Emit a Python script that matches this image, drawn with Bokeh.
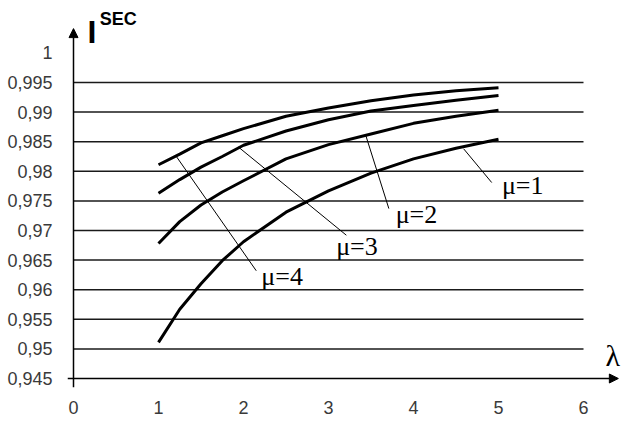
from bokeh.plotting import figure
from bokeh.models import Range1d, FixedTicker, CustomJSTickFormatter, Arrow, NormalHead, Label
from bokeh.core.properties import value
from bokeh.embed import file_html
from bokeh.resources import INLINE

# ---- data ----
lam = [1, 1.25, 1.5, 1.75, 2, 2.5, 3, 3.5, 4, 4.5, 5]
sec_mu1 = [0.9511, 0.9567, 0.9610, 0.9649, 0.9681, 0.9731, 0.9767, 0.9797, 0.9821, 0.9839, 0.9854]
sec_mu2 = [0.9678, 0.9715, 0.9743, 0.9765, 0.9784, 0.9821, 0.9845, 0.9863, 0.9881, 0.9893, 0.9903]
sec_mu3 = [0.9763, 0.9786, 0.9807, 0.9825, 0.9844, 0.9868, 0.9887, 0.9902, 0.9911, 0.9920, 0.9928]
sec_mu4 = [0.9811, 0.9829, 0.9848, 0.9860, 0.9872, 0.9893, 0.9907, 0.9919, 0.9929, 0.9936, 0.9941]

x_ticks = [0, 1, 2, 3, 4, 5, 6]
y_ticks = [0.945, 0.95, 0.955, 0.96, 0.965, 0.97, 0.975, 0.98, 0.985, 0.99, 0.995, 1.0]
grid_levels = [0.95, 0.955, 0.96, 0.965, 0.97, 0.975, 0.98, 0.985, 0.99, 0.995]

mu_names = ["\u03bc=1", "\u03bc=2", "\u03bc=3", "\u03bc=4"]
label_x = [5.04, 3.79, 3.09, 2.21]
label_y = [0.9776, 0.9727, 0.9673, 0.9622]
leader_x0 = [4.59, 3.44, 1.94, 1.21]
leader_y0 = [0.9838, 0.9860, 0.9841, 0.9825]
leader_x1 = [4.92, 3.71, 3.21, 2.15]
leader_y1 = [0.9781, 0.9737, 0.9692, 0.9632]

# ---- layout ----
X0, X1 = -0.0706, 6.447
Y0, Y1 = 0.94348, 1.00885

p = figure(width=621, height=421, output_backend="svg", toolbar_location=None,
           x_range=Range1d(X0, X1), y_range=Range1d(Y0, Y1),
           min_border_left=67, min_border_right=0, min_border_top=0, min_border_bottom=34)
p.outline_line_color = None
p.grid.visible = False
p.background_fill_color = "white"

fmt = CustomJSTickFormatter(code="""
const s = (Math.round(tick*1000)/1000).toString();
return s.replace('.', ',');
""")

for ax in (p.xaxis[0], p.yaxis[0]):
    ax.axis_line_color = None
    ax.major_tick_line_color = None
    ax.minor_tick_line_color = None
    ax.major_label_text_font = "Liberation Sans"
    ax.major_label_text_font_size = "18px"
    ax.major_label_text_color = "#3a3a3a"

p.xaxis.ticker = FixedTicker(ticks=x_ticks)
p.xaxis.major_label_standoff = 7
p.yaxis.ticker = FixedTicker(ticks=y_ticks)
p.yaxis.formatter = fmt
p.yaxis.major_label_standoff = 9

# grid lines
p.segment(x0=0, y0=grid_levels, x1=x_ticks[-1], y1=grid_levels, line_color="#1a1a1a", line_width=1.5)

# axes with arrows
p.add_layout(Arrow(end=NormalHead(size=9, fill_color="black", line_color="black"),
                   x_start=X0, y_start=y_ticks[0], x_end=6.41, y_end=y_ticks[0],
                   line_color="black", line_width=1.5))
p.add_layout(Arrow(end=NormalHead(size=9, fill_color="black", line_color="black"),
                   x_start=0, y_start=Y0, x_end=0, y_end=1.0041,
                   line_color="black", line_width=1.5))

# curves
for ys in (sec_mu1, sec_mu2, sec_mu3, sec_mu4):
    p.line(lam, ys, line_color="black", line_width=3)

# leader lines and labels
p.segment(x0=leader_x0, y0=leader_y0, x1=leader_x1, y1=leader_y1, line_color="black", line_width=1)
p.text(x=label_x, y=label_y, text=mu_names, text_font=value("Liberation Serif"),
       text_font_size="26px", text_baseline="middle", text_align="left", text_color="black")

# axis titles
p.add_layout(Label(x=0.165, y=1.00649, text="I", text_font="Liberation Sans", text_font_style="bold",
                   text_font_size="32px", text_baseline="top", text_color="black"))
p.add_layout(Label(x=0.31, y=1.00733, text="SEC", text_font="Liberation Sans", text_font_style="bold",
                   text_font_size="18px", text_baseline="top", text_color="black"))
p.add_layout(Label(x=6.26, y=0.94889, text="\u03bb", text_font="Liberation Serif",
                   text_font_size="30px", text_baseline="middle", text_color="black"))

open("out.html", "w").write(file_html(p, INLINE))
